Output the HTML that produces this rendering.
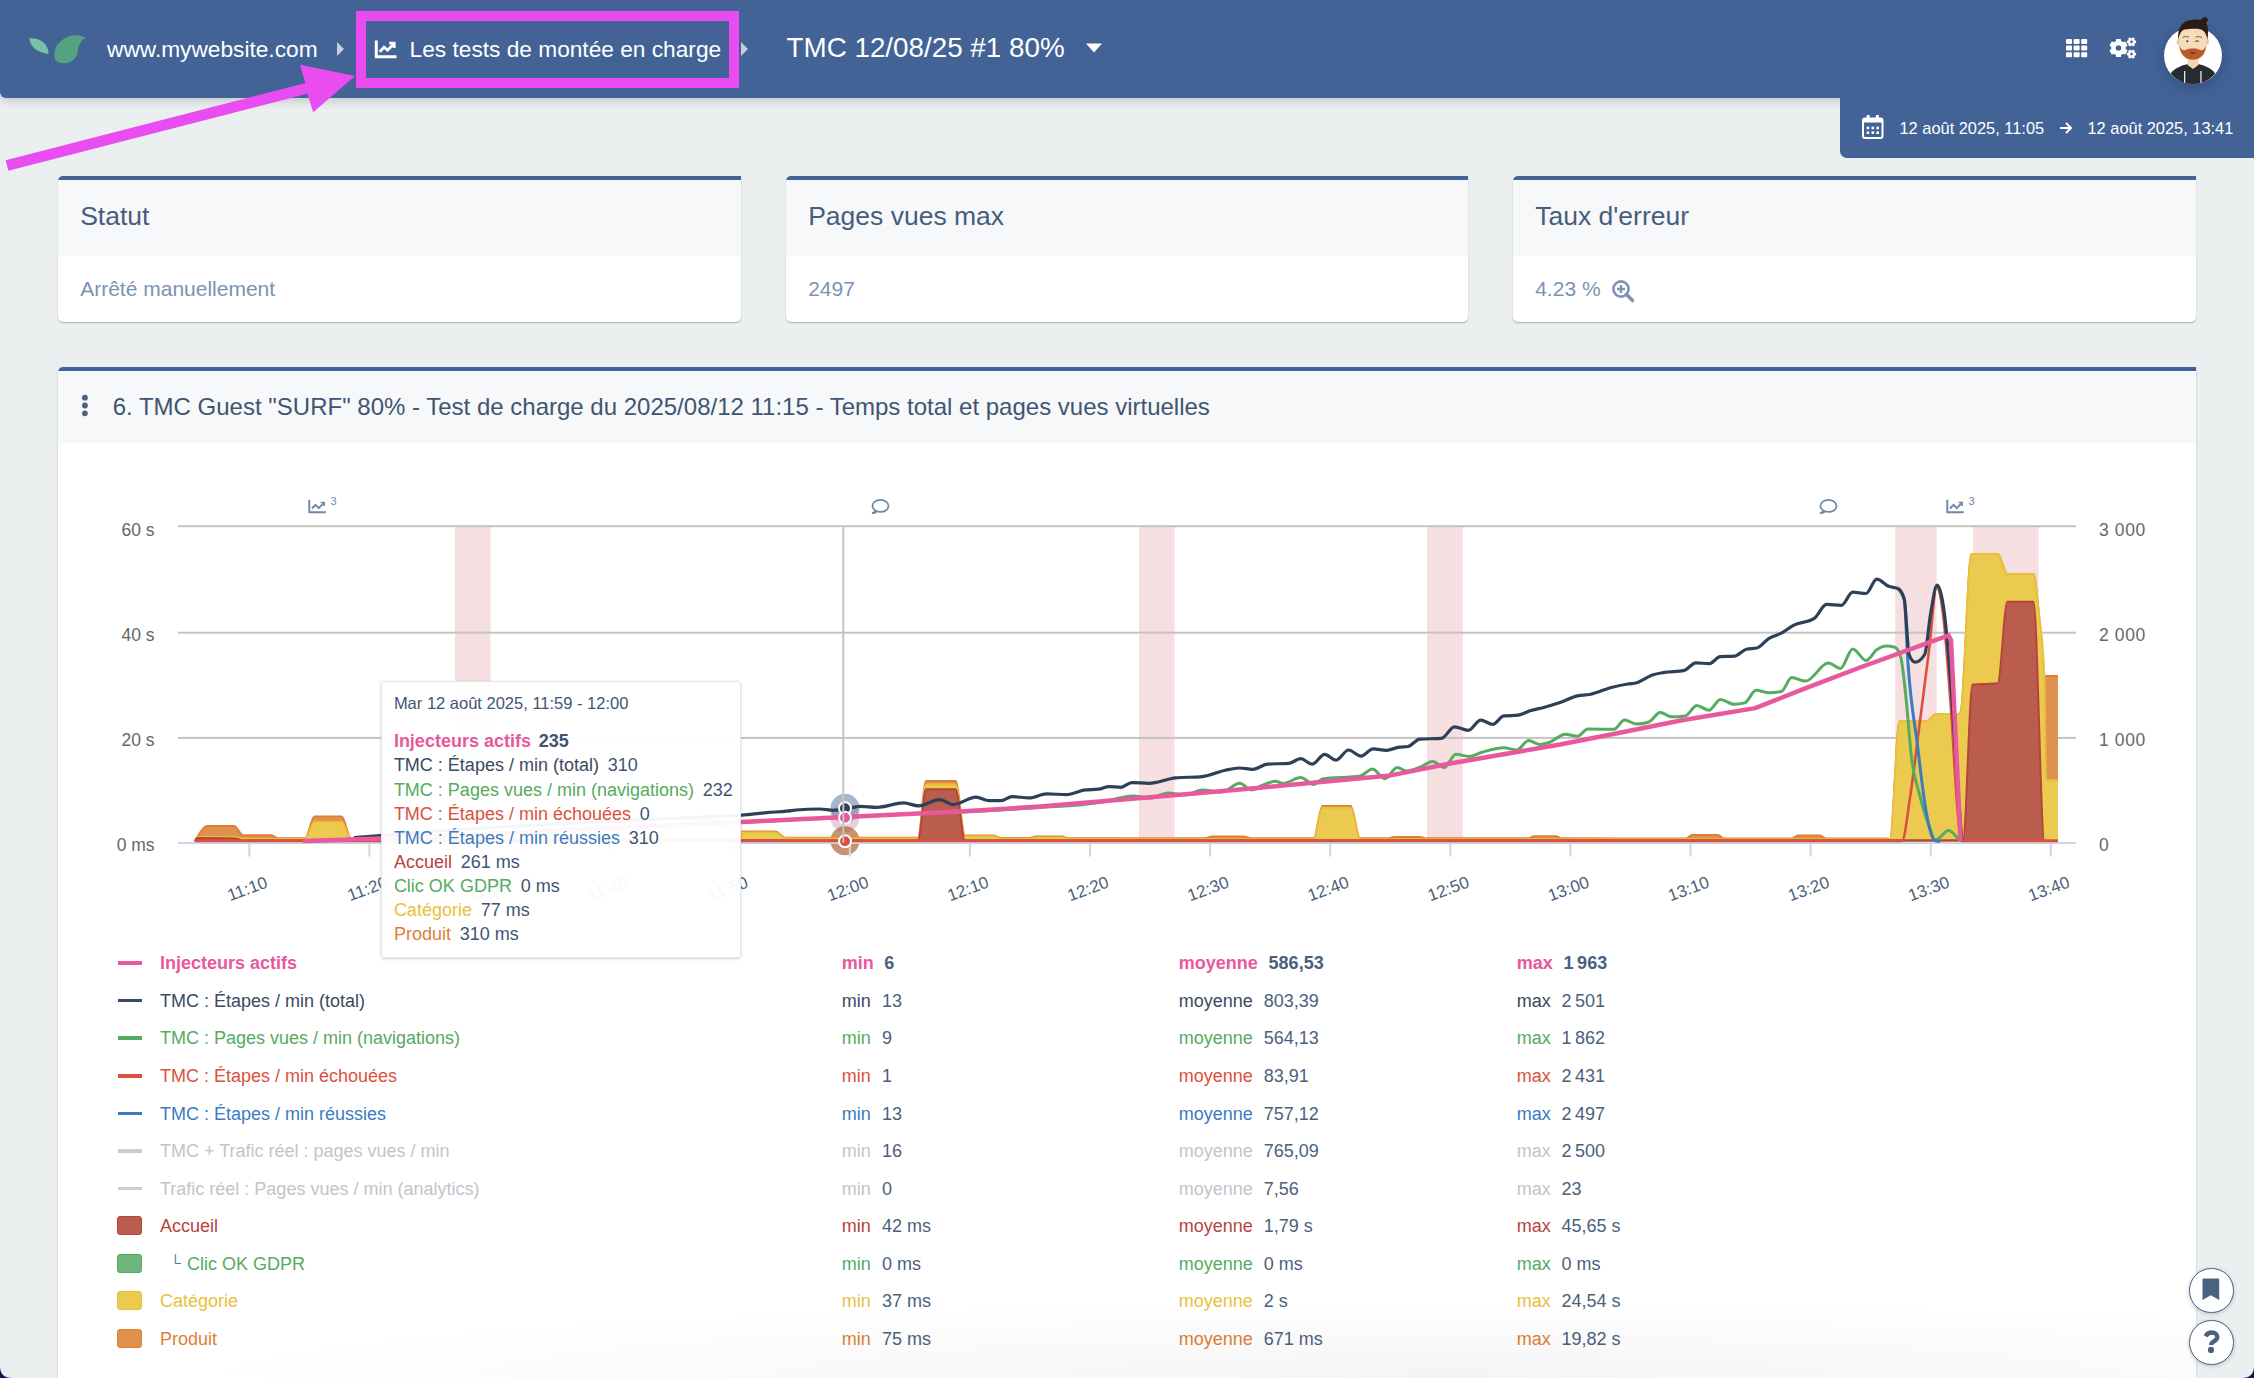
<!DOCTYPE html>
<html><head><meta charset="utf-8">
<style>
html,body{margin:0;padding:0;}
body{width:2254px;height:1378px;overflow:hidden;position:relative;background:#ebeff0;font-family:"Liberation Sans",sans-serif;}
.abs{position:absolute;}
.lg{position:absolute;font-size:18px;line-height:22px;white-space:nowrap;}
.tt{position:absolute;left:11.7px;font-size:18px;line-height:22px;white-space:nowrap;}
.card{position:absolute;top:176px;height:146px;background:#fff;border-radius:5px 0 5px 5px;box-shadow:0 1px 1.5px rgba(0,0,0,0.28);overflow:hidden;}
.card .hd{position:absolute;left:0;right:0;top:0;height:80px;background:#f7f8fa;border-top:4px solid #436396;box-sizing:border-box;}
.card .t{position:absolute;left:22.2px;top:24px;font-size:26.5px;line-height:32px;color:#475d7d;white-space:nowrap;}
.card .v{position:absolute;left:22.2px;top:101px;font-size:21px;line-height:24px;color:#7b93b3;white-space:nowrap;}
</style></head><body>

<!-- header -->
<div class="abs" style="left:0;top:0;width:2254px;height:98px;background:#436396;border-radius:0 0 0 6px;box-shadow:0 3px 10px rgba(0,0,0,0.17);"></div>
<div class="abs" style="left:1840px;top:90px;width:414px;height:67.5px;background:#436396;border-radius:0 0 0 7px;"></div>
<!-- leaves -->
<svg class="abs" style="left:25px;top:30px" width="70" height="40">
<path d="M4.1,8.4 C9,7.5 14,9 18,12 C22,15.5 23.5,20 23.7,23.7 C18,23.5 12,21 8.5,17.5 C6,15 4.8,11.5 4.1,8.4 Z" fill="#7bbfa6"/>
<path d="M60.9,8.1 C57,5.5 53,5 50.5,5.2 C42,5.5 34,11 31,17 C29,22 29,27 30.5,30 C33,33 37,33.5 40.5,33.2 C47,32.5 51.5,28 52.5,23 C53,19 53.5,15.5 55.5,12.5 C57,10.3 59,8.8 60.9,8.1 Z" fill="#56a383"/>
</svg>
<div class="abs" style="left:107px;top:35px;font-size:22.7px;line-height:28px;color:#fff;white-space:nowrap">www.mywebsite.com</div>
<svg class="abs" style="left:336px;top:41px" width="10" height="16"><path d="M1,1 L8,8 L1,15 Z" fill="#c5cfdf"/></svg>
<svg class="abs" style="left:374px;top:38px" width="25" height="22" fill="none" stroke="#fff" stroke-width="3">
<path d="M2.3,2.5 V18.8 H22.5"/><path d="M5.8,13.8 L10,9.2 L13.6,12.2 L19,6.8" stroke-width="2.8"/><path d="M15.2,5.2 H20.2 V10" stroke-width="2.8"/></svg>
<div class="abs" style="left:409.6px;top:34.5px;font-size:22.7px;line-height:28px;color:#fff;white-space:nowrap">Les tests de montée en charge</div>
<svg class="abs" style="left:740px;top:41px" width="10" height="16"><path d="M1,1 L8,8 L1,15 Z" fill="#c5cfdf"/></svg>
<div class="abs" style="left:786.5px;top:31px;font-size:27.8px;line-height:34px;color:#fff;white-space:nowrap">TMC 12/08/25 #1 80%</div>
<svg class="abs" style="left:1085px;top:42px" width="20" height="14"><path d="M1,1.5 H17 L9,10.5 Z" fill="#fff"/></svg>
<!-- grid icon -->
<svg class="abs" style="left:2066px;top:38.8px" width="22" height="19" fill="#fff">
<rect x="0" y="0" width="6" height="5" rx="1"/><rect x="7.6" y="0" width="6" height="5" rx="1"/><rect x="15.2" y="0" width="6" height="5" rx="1"/>
<rect x="0" y="6.6" width="6" height="5" rx="1"/><rect x="7.6" y="6.6" width="6" height="5" rx="1"/><rect x="15.2" y="6.6" width="6" height="5" rx="1"/>
<rect x="0" y="13.2" width="6" height="5" rx="1"/><rect x="7.6" y="13.2" width="6" height="5" rx="1"/><rect x="15.2" y="13.2" width="6" height="5" rx="1"/>
</svg>
<!-- gears -->
<svg class="abs" style="left:2105px;top:34px" width="34" height="28">
<g transform="translate(13.5,14)" fill="#fff">
<circle r="7.4"/>
<rect x="-2.5" y="-9.1" width="5" height="18.2" rx="0.6"/>
<rect x="-2.5" y="-9.1" width="5" height="18.2" rx="0.6" transform="rotate(60)"/>
<rect x="-2.5" y="-9.1" width="5" height="18.2" rx="0.6" transform="rotate(120)"/>
<circle r="2.8" fill="#436396"/>
</g>
<g transform="translate(26.5,7.9)" fill="#fff">
<circle r="3.5"/>
<rect x="-1.3" y="-4.6" width="2.6" height="9.2" transform="rotate(30)"/><rect x="-1.3" y="-4.6" width="2.6" height="9.2" transform="rotate(90)"/><rect x="-1.3" y="-4.6" width="2.6" height="9.2" transform="rotate(150)"/>
<circle r="1.3" fill="#436396"/>
</g>
<g transform="translate(26.5,20.1)" fill="#fff">
<circle r="3.5"/>
<rect x="-1.3" y="-4.6" width="2.6" height="9.2" transform="rotate(30)"/><rect x="-1.3" y="-4.6" width="2.6" height="9.2" transform="rotate(90)"/><rect x="-1.3" y="-4.6" width="2.6" height="9.2" transform="rotate(150)"/>
<circle r="1.3" fill="#436396"/>
</g>
</svg>
<!-- avatar -->
<div class="abs" style="left:2164px;top:26.5px;width:57.6px;height:57.6px;border-radius:50%;background:#fff;box-shadow:0 3px 14px rgba(20,40,80,0.35)"></div>
<svg class="abs" style="left:2150px;top:10px" width="90" height="80">
<defs><clipPath id="av"><circle cx="42.9" cy="45.3" r="28.8"/></clipPath></defs>
<g clip-path="url(#av)">
<path d="M14,80 L21.6,62 C26,57.5 33,55 38,54 L48,54 C53,55 60,57.5 64.2,62 L72,80 Z" fill="#262b2f"/>
<path d="M37.5,48 H48.5 V55 L43,59 L37.5,55 Z" fill="#f4d5ae"/>
<rect x="34" y="61" width="1.3" height="12" fill="#e8e8e8"/><rect x="50.3" y="61" width="1.3" height="12" fill="#e8e8e8"/>
</g>
<ellipse cx="28.6" cy="32" rx="2" ry="3" fill="#f0c9a0"/><ellipse cx="57" cy="32" rx="2" ry="3" fill="#f0c9a0"/>
<path d="M29,26 C29,18 35,15.5 42.8,15.5 C50.6,15.5 56.4,18 56.4,26 L56.4,36 C56.4,45 50,50.5 42.8,50.5 C35.6,50.5 29,45 29,36 Z" fill="#f7dcb8"/>
<path d="M29.3,35 C30,44 35.5,49.8 42.8,49.8 C50.1,49.8 55.8,44 56.2,35 C55,39 53,41 50,40 C47,38.5 45,38.3 42.8,38.5 C40.5,38.3 38.5,38.5 35.5,40 C32.5,41 30.5,39 29.3,35 Z" fill="#b9592c"/>
<path d="M39.8,42.2 Q42.8,45.5 45.8,42.2 Z" fill="#3a3a3a"/>
<circle cx="37.3" cy="31.3" r="1" fill="#333"/><path d="M45,31.5 Q47,30 49,31.5" stroke="#333" stroke-width="0.9" fill="none"/>
<path d="M32.5,27.5 Q36,25.8 39,27" stroke="#333" stroke-width="0.7" fill="none"/><path d="M45.5,27 Q48.5,25.8 52,27.5" stroke="#333" stroke-width="0.7" fill="none"/>
<path d="M28.3,30 C27.5,22 29.5,14 37,11 C41,9.5 47,9 51,10 C52,7.5 55,6.5 57,8 C58.5,9.5 57.5,12 56,13 C58.5,16 58.5,23 57.3,30 C56.5,24 54.5,20 50,19.2 C45,18.5 39,19 34.5,19.5 C31,20.5 29.5,24 28.3,30 Z" fill="#2b1a16"/>
</svg>
<!-- date -->
<svg class="abs" style="left:1862px;top:114.5px" width="22" height="25">
<rect x="1" y="3.5" width="19.5" height="19.5" rx="2" fill="none" stroke="#fff" stroke-width="2"/>
<rect x="1" y="3.5" width="19.5" height="4" fill="#fff"/>
<rect x="4.6" y="0" width="3" height="5" rx="0.5" fill="#fff"/><rect x="13.9" y="0" width="3" height="5" rx="0.5" fill="#fff"/>
<rect x="4.6" y="11.6" width="2.6" height="2.6" fill="#fff"/><rect x="9.5" y="11.6" width="2.6" height="2.6" fill="#fff"/><rect x="14.4" y="11.6" width="2.6" height="2.6" fill="#fff"/>
<rect x="4.6" y="16.4" width="2.6" height="2.6" fill="#fff"/><rect x="9.5" y="16.4" width="2.6" height="2.6" fill="#fff"/><rect x="14.4" y="16.4" width="2.6" height="2.6" fill="#fff"/>
</svg>
<div class="abs" style="left:1899.5px;top:118px;font-size:16.4px;line-height:20px;color:#fff;white-space:nowrap">12 août 2025, 11:05</div>
<svg class="abs" style="left:2059px;top:121px" width="14" height="14"><path d="M1,7 H12 M7,2 L12,7 L7,12" stroke="#fff" stroke-width="2" fill="none"/></svg>
<div class="abs" style="left:2087.5px;top:118px;font-size:16.4px;line-height:20px;color:#fff;white-space:nowrap">12 août 2025, 13:41</div>

<!-- cards -->
<div class="card" style="left:58px;width:683px"><div class="hd"></div><div class="t">Statut</div><div class="v">Arrêté manuellement</div></div>
<div class="card" style="left:786px;width:682px"><div class="hd"></div><div class="t">Pages vues max</div><div class="v">2497</div></div>
<div class="card" style="left:1513px;width:683px"><div class="hd"></div><div class="t">Taux d'erreur</div><div class="v">4.23 %
<svg style="position:absolute;left:76px;top:2px" width="26" height="26"><circle cx="10" cy="10" r="7.6" fill="none" stroke="#7b93b3" stroke-width="2.6"/><path d="M6,10 H14 M10,6 V14" stroke="#7b93b3" stroke-width="2.4"/><path d="M15.5,15.5 L21.5,21.5" stroke="#7b93b3" stroke-width="3.6" stroke-linecap="round"/></svg></div></div>

<!-- panel -->
<div class="abs" style="left:58px;top:367px;width:2138px;height:1100px;background:#fff;border-radius:5px 0 0 0;box-shadow:0 1px 2px rgba(0,0,0,0.25);overflow:hidden">
  <div style="position:absolute;left:0;top:0;right:0;height:76px;background:#f7f8fa;border-top:4px solid #436396;box-sizing:border-box"></div>
</div>
<svg class="abs" style="left:80px;top:392px" width="10" height="27"><circle cx="4.9" cy="5.7" r="2.9" fill="#4a6180"/><circle cx="4.9" cy="13.5" r="2.9" fill="#4a6180"/><circle cx="4.9" cy="21.3" r="2.9" fill="#4a6180"/></svg>
<div class="abs" style="left:112.7px;top:393px;font-size:24px;line-height:28px;color:#3f5573;white-space:nowrap">6. TMC Guest "SURF" 80% - Test de charge du 2025/08/12 11:15 - Temps total et pages vues virtuelles</div>

<svg width="2254" height="1378" style="position:absolute;left:0;top:0">
<rect x="455" y="526" width="35.5" height="316.6" fill="#f5dfe0"/>
<rect x="1139" y="526" width="35.6" height="316.6" fill="#f5dfe0"/>
<rect x="1427" y="526" width="35.8" height="316.6" fill="#f5dfe0"/>
<rect x="1895.2" y="526" width="41.4" height="316.6" fill="#f5dfe0"/>
<rect x="1973" y="526" width="65.6" height="316.6" fill="#f5dfe0"/>
<rect x="178" y="525.2" width="1898" height="2" fill="#c4c4c4"/>
<rect x="178" y="631.7" width="1898" height="2" fill="#c4c4c4"/>
<rect x="178" y="736.9" width="1898" height="2" fill="#c4c4c4"/>
<circle cx="845" cy="817.7" r="14.5" fill="#b07a98" fill-opacity="0.35"/>
<circle cx="845" cy="808.3" r="14.5" fill="#5f7ba0" fill-opacity="0.55"/>
<circle cx="845" cy="840.8" r="14.5" fill="#a85a20" fill-opacity="0.65"/>
<path d="M195.0,841.5 C195.7,840.2 196.3,838.9 197.0,837.7 C200.3,831.8 203.7,826.0 207.0,826.0 C216.0,826.0 225.0,826.0 234.0,826.0 C237.0,826.0 240.1,835.2 243.1,835.2 C252.6,835.2 262.0,835.2 271.5,835.2 C273.6,835.2 275.8,838.3 277.9,838.3 C286.3,838.3 294.6,838.3 303.0,838.3 C303.7,838.3 304.4,838.3 305.1,838.3 C308.2,838.3 311.3,816.6 314.4,816.6 C323.5,816.6 332.6,816.6 341.7,816.6 C344.8,816.6 347.9,838.3 351.0,838.3 C480.7,838.3 610.3,838.3 740.0,838.3 C740.7,838.3 741.3,831.5 742.0,831.5 C753.0,831.5 764.0,831.5 775.0,831.5 C778.7,831.5 782.3,837.8 786.0,837.8 C830.0,837.8 874.0,837.8 918.0,837.8 C920.7,837.8 923.3,781.0 926.0,781.0 C935.9,781.0 945.7,781.0 955.6,781.0 C958.7,781.0 961.9,835.5 965.0,835.5 C974.3,835.5 983.7,835.5 993.0,835.5 C995.3,835.5 997.7,838.0 1000.0,838.0 C1010.0,838.0 1020.0,838.0 1030.0,838.0 C1032.0,838.0 1034.0,836.5 1036.0,836.5 C1044.7,836.5 1053.3,836.5 1062.0,836.5 C1064.0,836.5 1066.0,838.3 1068.0,838.3 C1113.7,838.3 1159.3,838.3 1205.0,838.3 C1207.3,838.3 1209.7,836.5 1212.0,836.5 C1222.7,836.5 1233.3,836.5 1244.0,836.5 C1246.3,836.5 1248.7,838.3 1251.0,838.3 C1271.9,838.3 1292.8,838.3 1313.7,838.3 C1316.6,838.3 1319.5,806.0 1322.4,806.0 C1331.8,806.0 1341.3,806.0 1350.7,806.0 C1353.8,806.0 1357.0,838.3 1360.1,838.3 C1369.4,838.3 1378.7,838.3 1388.0,838.3 C1390.0,838.3 1392.0,837.0 1394.0,837.0 C1402.7,837.0 1411.3,837.0 1420.0,837.0 C1422.0,837.0 1424.0,838.3 1426.0,838.3 C1460.0,838.3 1494.0,838.3 1528.0,838.3 C1530.0,838.3 1532.0,836.3 1534.0,836.3 C1541.3,836.3 1548.7,836.3 1556.0,836.3 C1558.0,836.3 1560.0,838.3 1562.0,838.3 C1603.3,838.4 1644.7,838.5 1686.0,838.5 C1688.0,838.5 1690.0,835.0 1692.0,835.0 C1700.7,835.0 1709.3,835.0 1718.0,835.0 C1720.0,835.0 1722.0,838.5 1724.0,838.5 C1746.7,838.5 1769.3,838.5 1792.0,838.5 C1794.0,838.5 1796.0,835.5 1798.0,835.5 C1805.3,835.5 1812.7,835.5 1820.0,835.5 C1822.0,835.5 1824.0,838.5 1826.0,838.5 C1846.0,838.5 1866.0,838.5 1886.0,838.5 C1887.3,838.5 1888.7,839.0 1890.0,839.0 C1893.2,839.0 1896.3,721.6 1899.5,721.6 C1908.3,721.6 1917.1,721.6 1925.9,721.6 C1929.5,721.6 1933.0,713.9 1936.6,713.9 C1943.8,713.9 1951.0,713.9 1958.2,713.9 C1959.0,713.9 1959.8,713.3 1960.6,712.0 C1964.2,706.3 1967.8,554.0 1971.4,554.0 C1980.2,554.0 1988.9,554.0 1997.7,554.0 C2000.9,554.0 2004.1,574.3 2007.3,574.3 C2016.1,574.3 2024.8,574.3 2033.6,574.3 C2035.2,574.3 2036.8,594.6 2038.4,609.0 C2040.4,627.0 2042.4,676.0 2044.4,676.0 C2048.9,676.0 2053.5,676.0 2058.0,676.0 L2058.0,841.5 L195.0,841.5 Z" fill="#de924e"/><path d="M195.0,841.5 C195.7,840.2 196.3,838.9 197.0,837.7 C200.3,831.8 203.7,826.0 207.0,826.0 C216.0,826.0 225.0,826.0 234.0,826.0 C237.0,826.0 240.1,835.2 243.1,835.2 C252.6,835.2 262.0,835.2 271.5,835.2 C273.6,835.2 275.8,838.3 277.9,838.3 C286.3,838.3 294.6,838.3 303.0,838.3 C303.7,838.3 304.4,838.3 305.1,838.3 C308.2,838.3 311.3,816.6 314.4,816.6 C323.5,816.6 332.6,816.6 341.7,816.6 C344.8,816.6 347.9,838.3 351.0,838.3 C480.7,838.3 610.3,838.3 740.0,838.3 C740.7,838.3 741.3,831.5 742.0,831.5 C753.0,831.5 764.0,831.5 775.0,831.5 C778.7,831.5 782.3,837.8 786.0,837.8 C830.0,837.8 874.0,837.8 918.0,837.8 C920.7,837.8 923.3,781.0 926.0,781.0 C935.9,781.0 945.7,781.0 955.6,781.0 C958.7,781.0 961.9,835.5 965.0,835.5 C974.3,835.5 983.7,835.5 993.0,835.5 C995.3,835.5 997.7,838.0 1000.0,838.0 C1010.0,838.0 1020.0,838.0 1030.0,838.0 C1032.0,838.0 1034.0,836.5 1036.0,836.5 C1044.7,836.5 1053.3,836.5 1062.0,836.5 C1064.0,836.5 1066.0,838.3 1068.0,838.3 C1113.7,838.3 1159.3,838.3 1205.0,838.3 C1207.3,838.3 1209.7,836.5 1212.0,836.5 C1222.7,836.5 1233.3,836.5 1244.0,836.5 C1246.3,836.5 1248.7,838.3 1251.0,838.3 C1271.9,838.3 1292.8,838.3 1313.7,838.3 C1316.6,838.3 1319.5,806.0 1322.4,806.0 C1331.8,806.0 1341.3,806.0 1350.7,806.0 C1353.8,806.0 1357.0,838.3 1360.1,838.3 C1369.4,838.3 1378.7,838.3 1388.0,838.3 C1390.0,838.3 1392.0,837.0 1394.0,837.0 C1402.7,837.0 1411.3,837.0 1420.0,837.0 C1422.0,837.0 1424.0,838.3 1426.0,838.3 C1460.0,838.3 1494.0,838.3 1528.0,838.3 C1530.0,838.3 1532.0,836.3 1534.0,836.3 C1541.3,836.3 1548.7,836.3 1556.0,836.3 C1558.0,836.3 1560.0,838.3 1562.0,838.3 C1603.3,838.4 1644.7,838.5 1686.0,838.5 C1688.0,838.5 1690.0,835.0 1692.0,835.0 C1700.7,835.0 1709.3,835.0 1718.0,835.0 C1720.0,835.0 1722.0,838.5 1724.0,838.5 C1746.7,838.5 1769.3,838.5 1792.0,838.5 C1794.0,838.5 1796.0,835.5 1798.0,835.5 C1805.3,835.5 1812.7,835.5 1820.0,835.5 C1822.0,835.5 1824.0,838.5 1826.0,838.5 C1846.0,838.5 1866.0,838.5 1886.0,838.5 C1887.3,838.5 1888.7,839.0 1890.0,839.0 C1893.2,839.0 1896.3,721.6 1899.5,721.6 C1908.3,721.6 1917.1,721.6 1925.9,721.6 C1929.5,721.6 1933.0,713.9 1936.6,713.9 C1943.8,713.9 1951.0,713.9 1958.2,713.9 C1959.0,713.9 1959.8,713.3 1960.6,712.0 C1964.2,706.3 1967.8,554.0 1971.4,554.0 C1980.2,554.0 1988.9,554.0 1997.7,554.0 C2000.9,554.0 2004.1,574.3 2007.3,574.3 C2016.1,574.3 2024.8,574.3 2033.6,574.3 C2035.2,574.3 2036.8,594.6 2038.4,609.0 C2040.4,627.0 2042.4,676.0 2044.4,676.0 C2048.9,676.0 2053.5,676.0 2058.0,676.0" fill="none" stroke="#dd7f35" stroke-width="2" stroke-linejoin="round"/>
<path d="M195.0,841.5 C195.7,839.2 196.3,837.0 197.0,837.0 C210.0,837.0 223.0,837.1 236.0,837.2 C238.0,837.2 240.0,838.8 242.0,838.8 C262.3,838.9 282.7,839.0 303.0,839.0 C303.7,839.0 304.4,839.0 305.1,839.0 C308.2,839.0 311.3,821.9 314.4,821.9 C323.5,821.9 332.6,821.9 341.7,821.9 C344.8,821.9 347.9,839.0 351.0,839.0 C480.7,839.0 610.3,839.0 740.0,839.0 C740.7,839.0 741.3,832.5 742.0,832.5 C753.0,832.5 764.0,832.5 775.0,832.5 C778.7,832.5 782.3,838.5 786.0,838.5 C830.0,838.5 874.0,838.5 918.0,838.5 C920.7,838.5 923.3,784.6 926.0,784.6 C935.9,784.6 945.7,784.6 955.6,784.6 C958.7,784.6 961.9,836.3 965.0,836.3 C974.3,836.3 983.7,836.3 993.0,836.3 C995.3,836.3 997.7,838.8 1000.0,838.8 C1010.0,838.8 1020.0,838.8 1030.0,838.8 C1032.0,838.8 1034.0,837.5 1036.0,837.5 C1044.7,837.5 1053.3,837.5 1062.0,837.5 C1064.0,837.5 1066.0,839.0 1068.0,839.0 C1149.9,839.1 1231.8,839.2 1313.7,839.2 C1316.6,839.2 1319.5,807.7 1322.4,807.7 C1331.8,807.7 1341.3,807.7 1350.7,807.7 C1353.8,807.7 1357.0,839.2 1360.1,839.2 C1535.4,839.3 1710.7,839.3 1886.0,839.3 C1887.3,839.3 1888.7,839.2 1890.0,839.0 C1893.2,838.5 1896.3,721.6 1899.5,721.6 C1908.3,721.6 1917.1,721.6 1925.9,721.6 C1929.5,721.6 1933.0,713.9 1936.6,713.9 C1943.8,713.9 1951.0,713.9 1958.2,713.9 C1959.0,713.9 1959.8,713.3 1960.6,712.0 C1964.2,706.3 1967.8,554.0 1971.4,554.0 C1980.2,554.0 1988.9,554.0 1997.7,554.0 C2000.9,554.0 2004.1,574.3 2007.3,574.3 C2016.1,574.3 2024.8,574.3 2033.6,574.3 C2035.2,574.3 2036.8,594.6 2038.4,609.0 C2040.4,627.0 2042.4,631.3 2044.4,676.0 C2044.9,687.9 2045.5,780.2 2046.0,780.2 C2050.0,780.2 2054.0,780.2 2058.0,780.2 L2058.0,841.5 L195.0,841.5 Z" fill="#ecca4f"/><path d="M195.0,841.5 C195.7,839.2 196.3,837.0 197.0,837.0 C210.0,837.0 223.0,837.1 236.0,837.2 C238.0,837.2 240.0,838.8 242.0,838.8 C262.3,838.9 282.7,839.0 303.0,839.0 C303.7,839.0 304.4,839.0 305.1,839.0 C308.2,839.0 311.3,821.9 314.4,821.9 C323.5,821.9 332.6,821.9 341.7,821.9 C344.8,821.9 347.9,839.0 351.0,839.0 C480.7,839.0 610.3,839.0 740.0,839.0 C740.7,839.0 741.3,832.5 742.0,832.5 C753.0,832.5 764.0,832.5 775.0,832.5 C778.7,832.5 782.3,838.5 786.0,838.5 C830.0,838.5 874.0,838.5 918.0,838.5 C920.7,838.5 923.3,784.6 926.0,784.6 C935.9,784.6 945.7,784.6 955.6,784.6 C958.7,784.6 961.9,836.3 965.0,836.3 C974.3,836.3 983.7,836.3 993.0,836.3 C995.3,836.3 997.7,838.8 1000.0,838.8 C1010.0,838.8 1020.0,838.8 1030.0,838.8 C1032.0,838.8 1034.0,837.5 1036.0,837.5 C1044.7,837.5 1053.3,837.5 1062.0,837.5 C1064.0,837.5 1066.0,839.0 1068.0,839.0 C1149.9,839.1 1231.8,839.2 1313.7,839.2 C1316.6,839.2 1319.5,807.7 1322.4,807.7 C1331.8,807.7 1341.3,807.7 1350.7,807.7 C1353.8,807.7 1357.0,839.2 1360.1,839.2 C1535.4,839.3 1710.7,839.3 1886.0,839.3 C1887.3,839.3 1888.7,839.2 1890.0,839.0 C1893.2,838.5 1896.3,721.6 1899.5,721.6 C1908.3,721.6 1917.1,721.6 1925.9,721.6 C1929.5,721.6 1933.0,713.9 1936.6,713.9 C1943.8,713.9 1951.0,713.9 1958.2,713.9 C1959.0,713.9 1959.8,713.3 1960.6,712.0 C1964.2,706.3 1967.8,554.0 1971.4,554.0 C1980.2,554.0 1988.9,554.0 1997.7,554.0 C2000.9,554.0 2004.1,574.3 2007.3,574.3 C2016.1,574.3 2024.8,574.3 2033.6,574.3 C2035.2,574.3 2036.8,594.6 2038.4,609.0 C2040.4,627.0 2042.4,631.3 2044.4,676.0 C2044.9,687.9 2045.5,780.2 2046.0,780.2 C2050.0,780.2 2054.0,780.2 2058.0,780.2" fill="none" stroke="#e8c13b" stroke-width="2" stroke-linejoin="round"/>
<path d="M195.0,841.5 C195.7,839.8 196.3,838.0 197.0,838.0 C210.0,838.0 223.0,838.1 236.0,838.4 C238.0,838.4 240.0,840.3 242.0,840.3 C467.3,840.3 692.7,840.3 918.0,840.3 C920.7,840.3 923.3,789.3 926.0,789.3 C935.9,789.3 945.7,789.3 955.6,789.3 C958.7,789.3 961.9,840.3 965.0,840.3 C1297.7,840.3 1630.3,840.3 1963.0,840.3 C1966.2,840.3 1969.3,684.8 1972.5,684.5 C1980.9,683.7 1989.3,684.1 1997.7,683.3 C2000.9,683.0 2004.1,601.8 2007.3,601.8 C2016.1,601.8 2024.8,601.8 2033.6,601.8 C2037.2,601.8 2040.8,840.5 2044.4,840.5 C2048.9,840.5 2053.5,840.5 2058.0,840.5 L2058.0,841.5 L195.0,841.5 Z" fill="#ba5c4e"/><path d="M195.0,841.5 C195.7,839.8 196.3,838.0 197.0,838.0 C210.0,838.0 223.0,838.1 236.0,838.4 C238.0,838.4 240.0,840.3 242.0,840.3 C467.3,840.3 692.7,840.3 918.0,840.3 C920.7,840.3 923.3,789.3 926.0,789.3 C935.9,789.3 945.7,789.3 955.6,789.3 C958.7,789.3 961.9,840.3 965.0,840.3 C1297.7,840.3 1630.3,840.3 1963.0,840.3 C1966.2,840.3 1969.3,684.8 1972.5,684.5 C1980.9,683.7 1989.3,684.1 1997.7,683.3 C2000.9,683.0 2004.1,601.8 2007.3,601.8 C2016.1,601.8 2024.8,601.8 2033.6,601.8 C2037.2,601.8 2040.8,840.5 2044.4,840.5 C2048.9,840.5 2053.5,840.5 2058.0,840.5" fill="none" stroke="#b6443a" stroke-width="2" stroke-linejoin="round"/>
<rect x="178" y="842" width="1898" height="2" fill="#ccd6eb"/>
<rect x="248.3" y="842.6" width="2" height="14" fill="#ccd6eb"/>
<rect x="368.4" y="842.6" width="2" height="14" fill="#ccd6eb"/>
<rect x="488.5" y="842.6" width="2" height="14" fill="#ccd6eb"/>
<rect x="608.6" y="842.6" width="2" height="14" fill="#ccd6eb"/>
<rect x="728.7" y="842.6" width="2" height="14" fill="#ccd6eb"/>
<rect x="848.8" y="842.6" width="2" height="14" fill="#ccd6eb"/>
<rect x="968.9" y="842.6" width="2" height="14" fill="#ccd6eb"/>
<rect x="1089.0" y="842.6" width="2" height="14" fill="#ccd6eb"/>
<rect x="1209.1" y="842.6" width="2" height="14" fill="#ccd6eb"/>
<rect x="1329.2" y="842.6" width="2" height="14" fill="#ccd6eb"/>
<rect x="1449.3" y="842.6" width="2" height="14" fill="#ccd6eb"/>
<rect x="1569.4" y="842.6" width="2" height="14" fill="#ccd6eb"/>
<rect x="1689.5" y="842.6" width="2" height="14" fill="#ccd6eb"/>
<rect x="1809.6" y="842.6" width="2" height="14" fill="#ccd6eb"/>
<rect x="1929.7" y="842.6" width="2" height="14" fill="#ccd6eb"/>
<rect x="2049.8" y="842.6" width="2" height="14" fill="#ccd6eb"/>
<path d="M195.0,841.0 C760.0,841.0 1325.0,841.0 1890.0,841.0 C1894.0,841.0 1897.9,841.0 1901.9,841.0 C1904.7,841.0 1907.5,813.9 1910.3,795.8 C1913.5,775.1 1916.7,746.5 1919.9,721.6 C1923.1,697.0 1926.2,672.9 1929.4,647.3 C1931.8,627.9 1934.2,587.5 1936.6,587.5 C1939.0,587.5 1941.4,600.6 1943.8,621.0 C1946.2,641.4 1948.6,676.9 1951.0,709.6 C1953.4,742.3 1955.8,794.9 1958.2,817.4 C1959.4,828.6 1960.6,841.0 1961.8,841.0 C1993.9,841.0 2025.9,841.0 2058.0,841.0" fill="none" stroke="#dc4f3e" stroke-width="2.6" stroke-linejoin="round"/>
<path d="M380.0,840.0 C420.0,838.1 460.0,836.2 500.0,834.0 C540.0,831.8 580.0,828.9 620.0,827.0 C660.7,825.1 701.3,824.4 742.0,822.5 C761.3,821.6 780.7,820.5 800.0,819.5 C820.0,818.5 840.0,817.5 860.0,816.5 C880.0,815.5 900.0,814.4 920.0,813.5 C933.3,812.9 946.7,812.6 960.0,812.0 C973.3,811.4 986.7,810.8 1000.0,810.0 C1013.3,809.2 1026.7,808.4 1040.0,807.5 C1060.0,806.1 1080.0,805.6 1100.0,802.5 C1111.0,800.8 1122.0,796.0 1133.0,796.0 C1138.7,796.0 1144.3,798.0 1150.0,798.0 C1156.0,798.0 1162.0,793.0 1168.0,793.0 C1173.7,793.0 1179.3,795.0 1185.0,795.0 C1190.7,795.0 1196.3,790.0 1202.0,790.0 C1208.7,790.0 1215.3,792.0 1222.0,792.0 C1227.9,792.0 1233.8,783.3 1239.7,783.3 C1243.7,783.3 1247.6,789.9 1251.6,789.9 C1255.1,789.9 1258.5,786.8 1262.0,785.5 C1266.5,783.8 1271.1,781.3 1275.6,781.3 C1278.1,781.3 1280.7,783.4 1283.2,783.4 C1289.0,783.4 1294.8,777.6 1300.6,777.6 C1305.0,777.6 1309.3,784.5 1313.7,784.5 C1316.6,784.5 1319.5,779.4 1322.4,779.0 C1335.0,777.1 1347.5,778.0 1360.1,776.1 C1364.2,775.5 1368.4,768.9 1372.5,768.9 C1376.6,768.9 1380.7,778.7 1384.8,778.7 C1388.9,778.7 1393.1,767.4 1397.2,767.4 C1400.3,767.4 1403.5,771.0 1406.6,771.0 C1411.0,771.0 1415.3,769.0 1419.7,767.4 C1424.0,765.8 1428.4,761.6 1432.7,761.6 C1436.6,761.6 1440.4,767.4 1444.3,767.4 C1448.2,767.4 1452.0,754.3 1455.9,754.3 C1460.3,754.3 1464.6,756.5 1469.0,756.5 C1473.4,756.5 1477.7,753.4 1482.1,752.2 C1489.3,750.2 1496.6,747.8 1503.8,747.8 C1508.2,747.8 1512.5,750.0 1516.9,750.0 C1520.8,750.0 1524.6,740.6 1528.5,740.6 C1532.4,740.6 1536.2,744.5 1540.1,744.5 C1543.5,744.5 1546.9,743.2 1550.3,742.0 C1555.3,740.2 1560.2,734.2 1565.2,734.2 C1569.3,734.2 1573.3,736.3 1577.4,736.3 C1580.9,736.3 1584.4,729.0 1587.9,729.0 C1596.6,729.0 1605.3,729.3 1614.0,729.3 C1617.5,729.3 1621.0,719.9 1624.5,719.9 C1628.6,719.9 1632.6,724.1 1636.7,724.1 C1640.8,724.1 1644.8,723.4 1648.9,722.0 C1652.7,720.7 1656.4,712.4 1660.2,712.4 C1664.0,712.4 1667.7,716.8 1671.5,716.8 C1676.1,716.8 1680.8,716.5 1685.4,715.9 C1689.2,715.4 1693.0,705.5 1696.8,705.5 C1700.9,705.5 1704.9,710.2 1709.0,710.2 C1712.8,710.2 1716.5,699.4 1720.3,699.4 C1724.9,699.4 1729.6,704.3 1734.2,704.3 C1737.7,704.3 1741.2,703.8 1744.7,702.9 C1748.5,701.9 1752.2,690.3 1756.0,690.3 C1760.3,690.3 1764.7,692.8 1769.0,692.8 C1773.1,692.8 1777.2,692.4 1781.3,691.5 C1784.8,690.8 1788.2,677.6 1791.7,677.6 C1796.3,677.6 1801.0,681.1 1805.6,681.1 C1813.2,681.1 1820.7,663.1 1828.3,663.1 C1832.4,663.1 1836.4,668.4 1840.5,668.4 C1844.6,668.4 1848.6,648.9 1852.7,648.9 C1857.1,648.9 1861.6,660.5 1866.0,660.5 C1869.6,660.5 1873.2,652.1 1876.8,649.7 C1880.0,647.6 1883.1,646.1 1886.3,646.1 C1889.1,646.1 1891.9,646.5 1894.7,647.3 C1896.7,647.9 1898.7,650.5 1900.7,656.9 C1902.3,662.0 1903.9,678.5 1905.5,692.8 C1907.5,710.7 1909.5,741.1 1911.5,757.5 C1914.3,780.4 1917.1,784.7 1919.9,795.8 C1923.1,808.3 1926.2,818.6 1929.4,826.9 C1931.4,832.1 1933.4,840.1 1935.4,840.1 C1939.8,840.1 1944.2,830.5 1948.6,830.5 C1951.8,830.5 1955.0,834.7 1958.2,838.9" fill="none" stroke="#55ab60" stroke-width="3" stroke-linejoin="round"/>
<path d="M1898.3,588.7 C1900.3,590.6 1902.3,592.5 1904.3,600.0 C1905.5,604.5 1906.7,643.9 1907.9,661.7 C1911.1,709.2 1914.3,719.3 1917.5,745.5 C1920.3,768.4 1923.1,794.4 1925.9,810.2 C1928.7,825.8 1931.4,838.8 1934.2,840.1 C1936.1,841.0 1938.1,841.3 1940.0,841.5" fill="none" stroke="#3b7bbf" stroke-width="3" stroke-linejoin="round"/>
<path d="M354.0,837.5 C369.3,836.3 384.7,835.2 400.0,834.0 C416.7,832.7 433.3,831.2 450.0,830.0 C466.7,828.8 483.3,827.9 500.0,827.0 C520.0,825.9 540.0,825.0 560.0,824.0 C580.0,823.0 600.0,822.0 620.0,821.0 C640.0,820.0 660.0,819.0 680.0,818.0 C700.7,817.0 721.3,817.0 742.0,815.2 C750.2,814.5 758.4,813.3 766.6,812.6 C773.3,812.0 779.9,811.9 786.6,811.2 C789.7,810.9 792.8,810.3 795.9,810.0 C803.9,809.3 811.9,809.0 819.9,809.0 C824.3,809.0 828.8,810.3 833.2,810.3 C837.2,810.3 841.1,809.8 845.1,809.2 C850.0,808.5 854.9,806.3 859.8,806.3 C865.6,806.3 871.3,807.3 877.1,807.3 C886.0,807.3 894.8,802.9 903.7,802.9 C908.6,802.9 913.5,805.9 918.4,805.9 C925.5,805.9 932.6,799.7 939.7,799.7 C944.1,799.7 948.6,804.6 953.0,804.6 C960.7,804.6 968.3,797.2 976.0,797.2 C980.4,797.2 984.9,800.6 989.3,800.6 C993.3,800.6 997.3,800.6 1001.3,800.6 C1004.8,800.6 1008.4,796.6 1011.9,796.6 C1017.7,796.6 1023.4,797.9 1029.2,797.9 C1035.0,797.9 1040.7,793.9 1046.5,793.9 C1053.2,793.9 1059.8,794.6 1066.5,794.6 C1072.7,794.6 1078.9,790.6 1085.1,789.9 C1089.5,789.4 1094.0,789.7 1098.4,789.2 C1101.9,788.8 1105.5,786.6 1109.0,786.6 C1113.0,786.6 1117.0,787.3 1121.0,787.3 C1124.6,787.3 1128.1,782.6 1131.7,782.6 C1137.5,782.6 1143.2,783.3 1149.0,783.3 C1157.9,783.3 1166.7,778.8 1175.6,777.9 C1184.5,777.0 1193.3,777.5 1202.2,776.6 C1210.2,775.8 1218.2,771.6 1226.2,770.0 C1230.6,769.1 1235.1,768.0 1239.5,768.0 C1243.9,768.0 1248.4,769.3 1252.8,769.3 C1257.6,769.3 1262.5,764.6 1267.3,764.2 C1274.5,763.6 1281.8,763.9 1289.0,763.3 C1292.9,763.0 1296.7,758.7 1300.6,758.7 C1304.5,758.7 1308.3,764.2 1312.2,764.2 C1316.3,764.2 1320.5,754.3 1324.6,754.3 C1328.5,754.3 1332.3,760.1 1336.2,760.1 C1340.3,760.1 1344.4,750.0 1348.5,750.0 C1352.6,750.0 1356.8,756.1 1360.9,756.1 C1365.0,756.1 1369.1,748.8 1373.2,748.8 C1377.6,748.8 1381.9,750.3 1386.3,750.3 C1390.6,750.3 1395.0,747.7 1399.3,747.1 C1402.2,746.7 1405.1,746.9 1408.0,746.5 C1411.9,746.0 1415.8,739.4 1419.7,739.1 C1426.9,738.6 1434.2,738.9 1441.4,738.4 C1445.8,738.1 1450.1,726.8 1454.5,726.8 C1459.1,726.8 1463.7,730.4 1468.3,730.4 C1472.4,730.4 1476.5,720.2 1480.6,720.2 C1484.7,720.2 1488.8,724.3 1492.9,724.3 C1496.5,724.3 1500.2,716.3 1503.8,715.9 C1508.6,715.4 1513.5,715.7 1518.3,715.2 C1522.2,714.8 1526.1,712.0 1530.0,710.8 C1534.8,709.3 1539.7,708.5 1544.5,707.2 C1549.7,705.8 1554.8,704.3 1560.0,702.5 C1565.8,700.5 1571.6,697.2 1577.4,695.9 C1581.5,695.0 1585.5,695.3 1589.6,694.5 C1597.2,693.1 1604.7,689.1 1612.3,687.2 C1617.5,685.9 1622.8,684.8 1628.0,684.0 C1630.9,683.5 1633.8,683.6 1636.7,682.8 C1641.9,681.4 1647.1,676.8 1652.3,675.0 C1656.4,673.6 1660.4,673.1 1664.5,672.4 C1670.9,671.3 1677.3,671.8 1683.7,670.6 C1687.8,669.8 1691.8,662.8 1695.9,662.8 C1700.3,662.8 1704.6,663.7 1709.0,663.7 C1712.8,663.7 1716.5,657.0 1720.3,656.7 C1724.9,656.4 1729.6,656.5 1734.2,656.2 C1738.3,655.9 1742.3,650.1 1746.4,649.2 C1749.9,648.4 1753.4,648.8 1756.9,648.0 C1760.9,647.1 1765.0,640.9 1769.0,638.4 C1773.1,635.9 1777.2,635.4 1781.3,633.2 C1785.3,631.0 1789.4,627.5 1793.4,625.3 C1800.4,621.6 1807.3,623.0 1814.3,618.4 C1818.4,615.7 1822.4,604.4 1826.5,604.4 C1831.5,604.4 1836.4,605.3 1841.4,605.3 C1845.2,605.3 1848.9,592.2 1852.7,592.2 C1857.1,592.2 1861.6,593.5 1866.0,593.5 C1869.6,593.5 1873.2,579.1 1876.8,579.1 C1880.8,579.1 1884.7,584.7 1888.7,586.3 C1891.9,587.6 1895.1,587.1 1898.3,588.7 C1900.3,589.7 1902.3,592.3 1904.3,599.4 C1905.9,605.1 1907.5,650.4 1909.1,654.5 C1911.1,659.6 1913.1,662.2 1915.1,662.2 C1918.3,662.2 1921.5,659.6 1924.7,654.5 C1926.7,651.3 1928.6,625.0 1930.6,613.8 C1932.8,601.4 1934.9,585.1 1937.1,585.1 C1939.3,585.1 1941.6,593.4 1943.8,609.0 C1946.2,625.8 1948.6,655.0 1951.0,685.7 C1953.4,716.4 1955.8,760.1 1958.2,793.4 C1959.4,810.0 1960.6,825.7 1961.8,841.3" fill="none" stroke="#2d4058" stroke-width="3.2" stroke-linejoin="round"/>
<path d="M303.0,841.0 L381.6,838.6 L742.0,821.9 L960.0,811.6 L1040.0,806.5 L1200.0,793.0 L1260.0,787.7 L1390.6,775.4 L1448.7,763.8 L1560.0,744.5 L1612.3,734.2 L1682.0,720.3 L1755.1,708.1 L1803.9,688.9 L1860.0,667.5 L1948.6,635.4 L1951.0,640.2 L1960.6,841.3" fill="none" stroke="#e8589d" stroke-width="4.5" stroke-linejoin="round"/>
<circle cx="845" cy="808.3" r="6" fill="#2d4058" stroke="#fff" stroke-width="2"/>
<circle cx="845" cy="817.7" r="6" fill="#e8589d" stroke="#fff" stroke-width="2"/>
<circle cx="845" cy="841.2" r="6" fill="#dc5040" stroke="#fff" stroke-width="2"/>
<rect x="842.3" y="526" width="2" height="316.5" fill="#c4c4c4"/>
<text x="154.6" y="536.3" text-anchor="end" font-size="17.5" fill="#666">60 s</text>
<text x="154.6" y="641.1" text-anchor="end" font-size="17.5" fill="#666">40 s</text>
<text x="154.6" y="745.9" text-anchor="end" font-size="17.5" fill="#666">20 s</text>
<text x="154.6" y="850.7" text-anchor="end" font-size="17.5" fill="#666">0 ms</text>
<text x="2099" y="536.3" font-size="17.5" fill="#666" letter-spacing="0.6">3 000</text>
<text x="2099" y="641.1" font-size="17.5" fill="#666" letter-spacing="0.6">2 000</text>
<text x="2099" y="745.9" font-size="17.5" fill="#666" letter-spacing="0.6">1 000</text>
<text x="2099" y="850.7" font-size="17.5" fill="#666" letter-spacing="0.6">0</text>
<text x="247.3" y="894.5" text-anchor="middle" font-size="17" fill="#4b5f7d" transform="rotate(-20 247.3 888.6)">11:10</text>
<text x="367.4" y="894.5" text-anchor="middle" font-size="17" fill="#4b5f7d" transform="rotate(-20 367.4 888.6)">11:20</text>
<text x="487.5" y="894.5" text-anchor="middle" font-size="17" fill="#4b5f7d" transform="rotate(-20 487.5 888.6)">11:30</text>
<text x="607.6" y="894.5" text-anchor="middle" font-size="17" fill="#4b5f7d" transform="rotate(-20 607.6 888.6)">11:40</text>
<text x="727.7" y="894.5" text-anchor="middle" font-size="17" fill="#4b5f7d" transform="rotate(-20 727.7 888.6)">11:50</text>
<text x="847.8" y="894.5" text-anchor="middle" font-size="17" fill="#4b5f7d" transform="rotate(-20 847.8 888.6)">12:00</text>
<text x="967.9" y="894.5" text-anchor="middle" font-size="17" fill="#4b5f7d" transform="rotate(-20 967.9 888.6)">12:10</text>
<text x="1088.0" y="894.5" text-anchor="middle" font-size="17" fill="#4b5f7d" transform="rotate(-20 1088.0 888.6)">12:20</text>
<text x="1208.1" y="894.5" text-anchor="middle" font-size="17" fill="#4b5f7d" transform="rotate(-20 1208.1 888.6)">12:30</text>
<text x="1328.2" y="894.5" text-anchor="middle" font-size="17" fill="#4b5f7d" transform="rotate(-20 1328.2 888.6)">12:40</text>
<text x="1448.3" y="894.5" text-anchor="middle" font-size="17" fill="#4b5f7d" transform="rotate(-20 1448.3 888.6)">12:50</text>
<text x="1568.4" y="894.5" text-anchor="middle" font-size="17" fill="#4b5f7d" transform="rotate(-20 1568.4 888.6)">13:00</text>
<text x="1688.5" y="894.5" text-anchor="middle" font-size="17" fill="#4b5f7d" transform="rotate(-20 1688.5 888.6)">13:10</text>
<text x="1808.6" y="894.5" text-anchor="middle" font-size="17" fill="#4b5f7d" transform="rotate(-20 1808.6 888.6)">13:20</text>
<text x="1928.7" y="894.5" text-anchor="middle" font-size="17" fill="#4b5f7d" transform="rotate(-20 1928.7 888.6)">13:30</text>
<text x="2048.8" y="894.5" text-anchor="middle" font-size="17" fill="#4b5f7d" transform="rotate(-20 2048.8 888.6)">13:40</text>
<g transform="translate(308.4,499.8)" fill="none" stroke="#6c87aa" stroke-width="1.9"><path d="M0.9,0 V12.4 H17.3"/><path d="M3.6,8.7 L7.1,5.0 L10.4,8.4 L14.9,3.6"/><path d="M12.3,2.7 H15.8 V6.3" stroke-width="1.6"/></g><text x="330.4" y="505.3" font-size="11" fill="#6c87aa">3</text>
<g transform="translate(1946.4,499.8)" fill="none" stroke="#6c87aa" stroke-width="1.9"><path d="M0.9,0 V12.4 H17.3"/><path d="M3.6,8.7 L7.1,5.0 L10.4,8.4 L14.9,3.6"/><path d="M12.3,2.7 H15.8 V6.3" stroke-width="1.6"/></g><text x="1968.4" y="505.3" font-size="11" fill="#6c87aa">3</text>
<g transform="translate(871.5,499)" fill="none" stroke="#6c87aa" stroke-width="1.7"><path d="M4.2,11.6 C1.6,10 0.9,8.6 0.9,6.9 C0.9,3.4 4.6,0.9 9,0.9 C13.4,0.9 17,3.4 17,6.9 C17,10.4 13.4,12.9 9,12.9 C7.6,12.9 6.6,12.7 5.6,12.3 C4.6,13.3 3,14 0.6,14.3 C2.4,13.2 3.8,12.2 4.2,11.6 Z"/></g>
<g transform="translate(1819.5,499)" fill="none" stroke="#6c87aa" stroke-width="1.7"><path d="M4.2,11.6 C1.6,10 0.9,8.6 0.9,6.9 C0.9,3.4 4.6,0.9 9,0.9 C13.4,0.9 17,3.4 17,6.9 C17,10.4 13.4,12.9 9,12.9 C7.6,12.9 6.6,12.7 5.6,12.3 C4.6,13.3 3,14 0.6,14.3 C2.4,13.2 3.8,12.2 4.2,11.6 Z"/></g>
</svg>

<!-- tooltip -->
<div class="abs" style="left:381.2px;top:680.7px;width:360.3px;height:277.2px;background:rgba(255,255,255,0.95);border:1px solid #e3e6ea;border-radius:3px;box-sizing:border-box;box-shadow:0 1px 3px rgba(0,0,0,0.18)">
<div class="tt" style="top:10px;font-size:16.5px;color:#3f5573">Mar 12 août 2025, 11:59 - 12:00</div>
<div class="tt" style="top:48.8px"><span style="color:#e8589d;font-weight:700">Injecteurs actifs</span><span style="color:#3f5573;font-weight:700;margin-left:7.8px">235</span></div>
<div class="tt" style="top:72.8px"><span style="color:#3a4a5f;font-weight:400">TMC : Étapes / min (total)</span><span style="color:#3f5573;font-weight:400;margin-left:8.8px">310</span></div>
<div class="tt" style="top:96.9px"><span style="color:#55ab60;font-weight:400">TMC : Pages vues / min (navigations)</span><span style="color:#3f5573;font-weight:400;margin-left:8.8px">232</span></div>
<div class="tt" style="top:120.9px"><span style="color:#dc5040;font-weight:400">TMC : Étapes / min échouées</span><span style="color:#3f5573;font-weight:400;margin-left:8.8px">0</span></div>
<div class="tt" style="top:145.0px"><span style="color:#3b7bbf;font-weight:400">TMC : Étapes / min réussies</span><span style="color:#3f5573;font-weight:400;margin-left:8.8px">310</span></div>
<div class="tt" style="top:169.0px"><span style="color:#b6443a;font-weight:400">Accueil</span><span style="color:#3f5573;font-weight:400;margin-left:8.8px">261 ms</span></div>
<div class="tt" style="top:193.1px"><span style="color:#55ab60;font-weight:400">Clic OK GDPR</span><span style="color:#3f5573;font-weight:400;margin-left:8.8px">0 ms</span></div>
<div class="tt" style="top:217.1px"><span style="color:#e8c13b;font-weight:400">Catégorie</span><span style="color:#3f5573;font-weight:400;margin-left:8.8px">77 ms</span></div>
<div class="tt" style="top:241.2px"><span style="color:#dd7f35;font-weight:400">Produit</span><span style="color:#3f5573;font-weight:400;margin-left:8.8px">310 ms</span></div>
</div>

<!-- legend -->
<div style="position:absolute;left:118px;top:961.4px;width:24px;height:3.5px;background:#e8589d"></div>
<div class="lg" style="left:160px;top:952.4px;color:#e8589d;font-weight:700">Injecteurs actifs</div>
<div class="lg" style="left:841.8px;top:952.4px;color:#e8589d;font-weight:700">min</div>
<div class="lg" style="left:884.2px;top:952.4px;color:#4a5f7d;font-weight:700">6</div>
<div class="lg" style="left:1178.7px;top:952.4px;color:#e8589d;font-weight:700">moyenne</div>
<div class="lg" style="left:1268.6px;top:952.4px;color:#4a5f7d;font-weight:700">586,53</div>
<div class="lg" style="left:1516.7px;top:952.4px;color:#e8589d;font-weight:700">max</div>
<div class="lg" style="left:1563.5px;top:952.4px;color:#4a5f7d;font-weight:700">1 963</div>
<div style="position:absolute;left:118px;top:998.9px;width:24px;height:3.5px;background:#3a4a5f"></div>
<div class="lg" style="left:160px;top:989.9px;color:#3a4a5f;font-weight:400">TMC : Étapes / min (total)</div>
<div class="lg" style="left:841.8px;top:989.9px;color:#3a4a5f;font-weight:400">min</div>
<div class="lg" style="left:882px;top:989.9px;color:#4a5f7d;font-weight:400">13</div>
<div class="lg" style="left:1178.7px;top:989.9px;color:#3a4a5f;font-weight:400">moyenne</div>
<div class="lg" style="left:1263.7px;top:989.9px;color:#4a5f7d;font-weight:400">803,39</div>
<div class="lg" style="left:1516.7px;top:989.9px;color:#3a4a5f;font-weight:400">max</div>
<div class="lg" style="left:1561.4px;top:989.9px;color:#4a5f7d;font-weight:400">2 501</div>
<div style="position:absolute;left:118px;top:1036.4px;width:24px;height:3.5px;background:#55ab60"></div>
<div class="lg" style="left:160px;top:1027.4px;color:#55ab60;font-weight:400">TMC : Pages vues / min (navigations)</div>
<div class="lg" style="left:841.8px;top:1027.4px;color:#55ab60;font-weight:400">min</div>
<div class="lg" style="left:882px;top:1027.4px;color:#4a5f7d;font-weight:400">9</div>
<div class="lg" style="left:1178.7px;top:1027.4px;color:#55ab60;font-weight:400">moyenne</div>
<div class="lg" style="left:1263.7px;top:1027.4px;color:#4a5f7d;font-weight:400">564,13</div>
<div class="lg" style="left:1516.7px;top:1027.4px;color:#55ab60;font-weight:400">max</div>
<div class="lg" style="left:1561.4px;top:1027.4px;color:#4a5f7d;font-weight:400">1 862</div>
<div style="position:absolute;left:118px;top:1074.0px;width:24px;height:3.5px;background:#dc5040"></div>
<div class="lg" style="left:160px;top:1065.0px;color:#dc5040;font-weight:400">TMC : Étapes / min échouées</div>
<div class="lg" style="left:841.8px;top:1065.0px;color:#dc5040;font-weight:400">min</div>
<div class="lg" style="left:882px;top:1065.0px;color:#4a5f7d;font-weight:400">1</div>
<div class="lg" style="left:1178.7px;top:1065.0px;color:#dc5040;font-weight:400">moyenne</div>
<div class="lg" style="left:1263.7px;top:1065.0px;color:#4a5f7d;font-weight:400">83,91</div>
<div class="lg" style="left:1516.7px;top:1065.0px;color:#dc5040;font-weight:400">max</div>
<div class="lg" style="left:1561.4px;top:1065.0px;color:#4a5f7d;font-weight:400">2 431</div>
<div style="position:absolute;left:118px;top:1111.5px;width:24px;height:3.5px;background:#3b7bbf"></div>
<div class="lg" style="left:160px;top:1102.5px;color:#3b7bbf;font-weight:400">TMC : Étapes / min réussies</div>
<div class="lg" style="left:841.8px;top:1102.5px;color:#3b7bbf;font-weight:400">min</div>
<div class="lg" style="left:882px;top:1102.5px;color:#4a5f7d;font-weight:400">13</div>
<div class="lg" style="left:1178.7px;top:1102.5px;color:#3b7bbf;font-weight:400">moyenne</div>
<div class="lg" style="left:1263.7px;top:1102.5px;color:#4a5f7d;font-weight:400">757,12</div>
<div class="lg" style="left:1516.7px;top:1102.5px;color:#3b7bbf;font-weight:400">max</div>
<div class="lg" style="left:1561.4px;top:1102.5px;color:#4a5f7d;font-weight:400">2 497</div>
<div style="position:absolute;left:118px;top:1149.0px;width:24px;height:3.5px;background:#c9cdd2"></div>
<div class="lg" style="left:160px;top:1140.0px;color:#bfc5cb;font-weight:400">TMC + Trafic réel : pages vues / min</div>
<div class="lg" style="left:841.8px;top:1140.0px;color:#bfc5cb;font-weight:400">min</div>
<div class="lg" style="left:882px;top:1140.0px;color:#4a5f7d;font-weight:400">16</div>
<div class="lg" style="left:1178.7px;top:1140.0px;color:#bfc5cb;font-weight:400">moyenne</div>
<div class="lg" style="left:1263.7px;top:1140.0px;color:#4a5f7d;font-weight:400">765,09</div>
<div class="lg" style="left:1516.7px;top:1140.0px;color:#bfc5cb;font-weight:400">max</div>
<div class="lg" style="left:1561.4px;top:1140.0px;color:#4a5f7d;font-weight:400">2 500</div>
<div style="position:absolute;left:118px;top:1186.5px;width:24px;height:3.5px;background:#c9cdd2"></div>
<div class="lg" style="left:160px;top:1177.5px;color:#bfc5cb;font-weight:400">Trafic réel : Pages vues / min (analytics)</div>
<div class="lg" style="left:841.8px;top:1177.5px;color:#bfc5cb;font-weight:400">min</div>
<div class="lg" style="left:882px;top:1177.5px;color:#4a5f7d;font-weight:400">0</div>
<div class="lg" style="left:1178.7px;top:1177.5px;color:#bfc5cb;font-weight:400">moyenne</div>
<div class="lg" style="left:1263.7px;top:1177.5px;color:#4a5f7d;font-weight:400">7,56</div>
<div class="lg" style="left:1516.7px;top:1177.5px;color:#bfc5cb;font-weight:400">max</div>
<div class="lg" style="left:1561.4px;top:1177.5px;color:#4a5f7d;font-weight:400">23</div>
<div style="position:absolute;left:117px;top:1216.0px;width:25px;height:19px;background:#ba5c4e;border:1px solid #b6443a;border-radius:3px;box-sizing:border-box"></div>
<div class="lg" style="left:160px;top:1215.0px;color:#b6443a;font-weight:400">Accueil</div>
<div class="lg" style="left:841.8px;top:1215.0px;color:#b6443a;font-weight:400">min</div>
<div class="lg" style="left:882px;top:1215.0px;color:#4a5f7d;font-weight:400">42 ms</div>
<div class="lg" style="left:1178.7px;top:1215.0px;color:#b6443a;font-weight:400">moyenne</div>
<div class="lg" style="left:1263.7px;top:1215.0px;color:#4a5f7d;font-weight:400">1,79 s</div>
<div class="lg" style="left:1516.7px;top:1215.0px;color:#b6443a;font-weight:400">max</div>
<div class="lg" style="left:1561.4px;top:1215.0px;color:#4a5f7d;font-weight:400">45,65 s</div>
<div style="position:absolute;left:117px;top:1253.6px;width:25px;height:19px;background:#6db57a;border:1px solid #55ab60;border-radius:3px;box-sizing:border-box"></div>
<div class="lg" style="left:170px;top:1252.6px;color:#5d6f8c;font-size:15px;top:1251.6px">└</div>
<div class="lg" style="left:187px;top:1252.6px;color:#55ab60;font-weight:400">Clic OK GDPR</div>
<div class="lg" style="left:841.8px;top:1252.6px;color:#55ab60;font-weight:400">min</div>
<div class="lg" style="left:882px;top:1252.6px;color:#4a5f7d;font-weight:400">0 ms</div>
<div class="lg" style="left:1178.7px;top:1252.6px;color:#55ab60;font-weight:400">moyenne</div>
<div class="lg" style="left:1263.7px;top:1252.6px;color:#4a5f7d;font-weight:400">0 ms</div>
<div class="lg" style="left:1516.7px;top:1252.6px;color:#55ab60;font-weight:400">max</div>
<div class="lg" style="left:1561.4px;top:1252.6px;color:#4a5f7d;font-weight:400">0 ms</div>
<div style="position:absolute;left:117px;top:1291.1px;width:25px;height:19px;background:#ecca4f;border:1px solid #e8c13b;border-radius:3px;box-sizing:border-box"></div>
<div class="lg" style="left:160px;top:1290.1px;color:#e8c13b;font-weight:400">Catégorie</div>
<div class="lg" style="left:841.8px;top:1290.1px;color:#e8c13b;font-weight:400">min</div>
<div class="lg" style="left:882px;top:1290.1px;color:#4a5f7d;font-weight:400">37 ms</div>
<div class="lg" style="left:1178.7px;top:1290.1px;color:#e8c13b;font-weight:400">moyenne</div>
<div class="lg" style="left:1263.7px;top:1290.1px;color:#4a5f7d;font-weight:400">2 s</div>
<div class="lg" style="left:1516.7px;top:1290.1px;color:#e8c13b;font-weight:400">max</div>
<div class="lg" style="left:1561.4px;top:1290.1px;color:#4a5f7d;font-weight:400">24,54 s</div>
<div style="position:absolute;left:117px;top:1328.6px;width:25px;height:19px;background:#de924e;border:1px solid #dd7f35;border-radius:3px;box-sizing:border-box"></div>
<div class="lg" style="left:160px;top:1327.6px;color:#dd7f35;font-weight:400">Produit</div>
<div class="lg" style="left:841.8px;top:1327.6px;color:#dd7f35;font-weight:400">min</div>
<div class="lg" style="left:882px;top:1327.6px;color:#4a5f7d;font-weight:400">75 ms</div>
<div class="lg" style="left:1178.7px;top:1327.6px;color:#dd7f35;font-weight:400">moyenne</div>
<div class="lg" style="left:1263.7px;top:1327.6px;color:#4a5f7d;font-weight:400">671 ms</div>
<div class="lg" style="left:1516.7px;top:1327.6px;color:#dd7f35;font-weight:400">max</div>
<div class="lg" style="left:1561.4px;top:1327.6px;color:#4a5f7d;font-weight:400">19,82 s</div>

<!-- bottom fade -->
<div class="abs" style="left:58px;top:1300px;width:2138px;height:78px;background:radial-gradient(ellipse 60% 100% at 65% 100%, rgba(0,10,30,0.045), rgba(0,10,30,0) 100%)"></div>

<!-- floating buttons -->
<div class="abs" style="left:2189px;top:1268.3px;width:44.6px;height:44.6px;border-radius:50%;background:#fff;border:1.5px solid #4a6180;box-sizing:border-box;box-shadow:0 1px 4px rgba(0,0,0,0.2)"></div>
<svg class="abs" style="left:2202px;top:1278px" width="18" height="23"><path d="M0.5,1.5 Q0.5,0.5 1.5,0.5 H16.2 Q17.2,0.5 17.2,1.5 V22 L8.8,17.3 L0.5,22 Z" fill="#4a6180"/></svg>
<div class="abs" style="left:2189px;top:1320px;width:44.6px;height:44.6px;border-radius:50%;background:#fff;border:1.5px solid #4a6180;box-sizing:border-box;box-shadow:0 1px 4px rgba(0,0,0,0.2)"></div>
<svg class="abs" style="left:2200px;top:1328px" width="24" height="28"><path d="M5.6,8.3 C7,5.5 9,4.5 11.6,4.5 C15,4.5 17.3,6.3 17.3,9.1 C17.3,11.6 15.4,12.6 13.6,13.6 C12,14.5 11.2,15.4 11.2,17" fill="none" stroke="#4a6180" stroke-width="4.4" stroke-linecap="butt" stroke-linejoin="round"/><circle cx="11" cy="21.9" r="3.1" fill="#4a6180"/></svg>

<!-- annotation -->
<svg class="abs" style="left:0;top:0" width="760" height="180">
<rect x="361" y="16" width="373" height="67" fill="none" stroke="#e94cf0" stroke-width="10"/>
<path d="M8.5,169.5 L308,92 L300,64.8 L355,76 L313.2,112.2 L305.6,88" fill="#e94cf0" />
<path d="M7,165.5 L308,88" stroke="#e94cf0" stroke-width="11"/>
</svg>

<!-- screen corners -->
<svg class="abs" style="left:0;top:1366px" width="12" height="12"><path d="M0,0 Q0,12 12,12 H0 Z" fill="#15154a"/></svg>
<svg class="abs" style="left:2242px;top:1366px" width="12" height="12"><path d="M12,0 Q12,12 0,12 H12 Z" fill="#15154a"/></svg>
</body></html>
